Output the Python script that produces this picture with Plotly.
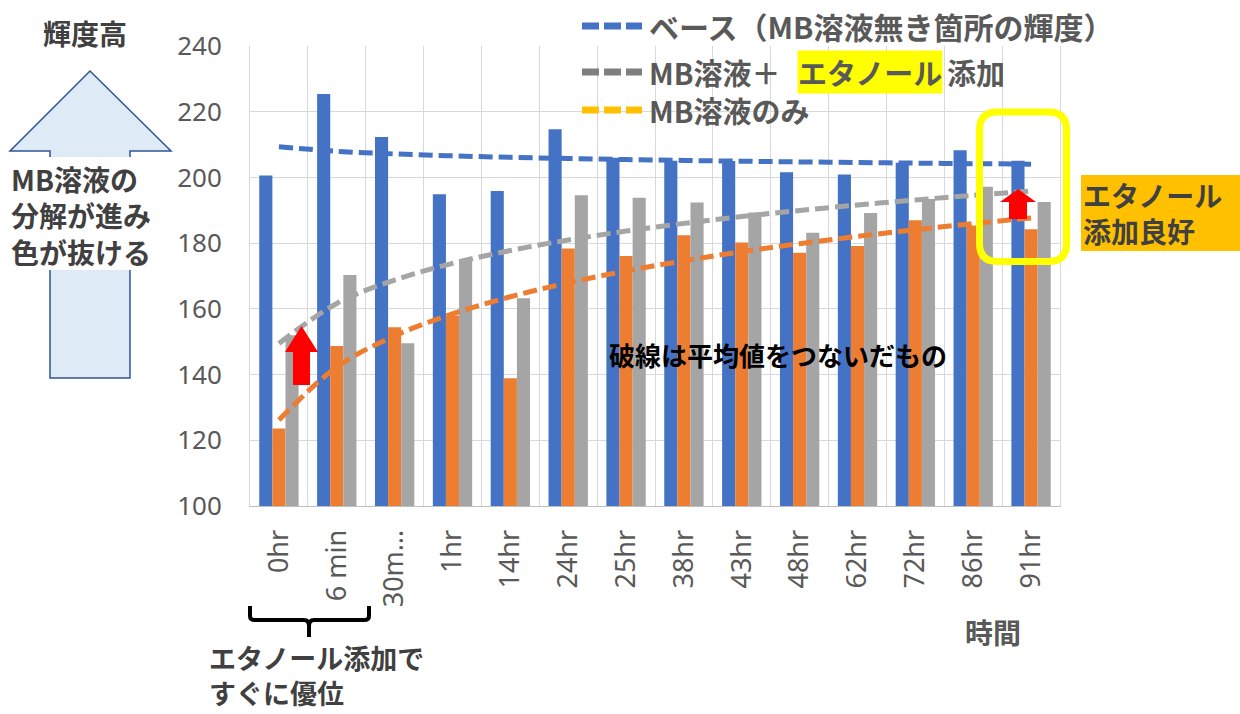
import numpy as np
import plotly.graph_objects as go

# category labels (time after start)
times = ["0hr", "6 min", "30m…", "1hr", "14hr", "24hr", "25hr",
         "38hr", "43hr", "48hr", "62hr", "72hr", "86hr", "91hr"]

# brightness values
base = [200.6, 225.4, 212.3, 194.9, 195.9, 214.7, 206.0,
        205.1, 205.0, 201.6, 200.9, 204.5, 208.3, 205.1]
mb_only = [123.6, 148.7, 154.4, 158.0, 138.9, 178.4, 176.1,
           182.4, 180.2, 177.1, 179.1, 187.0, 185.4, 184.2]
mb_etoh = [152.0, 170.3, 149.5, 174.7, 163.2, 194.6, 193.8,
           192.4, 189.3, 183.2, 189.2, 193.4, 197.2, 192.5]

COLORS = {
    "blue": "#4472C4",
    "orange": "#ED7D31",
    "gray": "#A5A5A5",
    "gold": "#FFC000",
    "grid": "#D9D9D9",
    "text": "#595959",
    "dark": "#404040",
}
JP = "Noto Sans CJK JP"

W, H = 1240, 714
L, R, T, B = 250, 180, 46, 208


def px(x):
    return (x - L) / (W - L - R)


def py(y):
    return (H - B - y) / (H - T - B)


def path(cmds):
    # cmds: list of (letter, [(x, y), ...]) in pixel space; L repeated per point
    out = []
    for c, pts in cmds:
        if c == "L":
            for x, y in pts:
                out.append(f"L {px(x):.5f},{py(y):.5f}")
        elif c == "Z":
            out.append("Z")
        else:
            out.append(c + " " + " ".join(f"{px(x):.5f},{py(y):.5f}" for x, y in pts))
    return " ".join(out)


def log_trend(values):
    # Excel-style logarithmic trendline over category index 1..n
    idx = np.arange(1, len(values) + 1)
    a, b = np.polyfit(np.log(idx), values, 1)
    return a * np.log(idx) + b


fig = go.Figure()
for name, vals, col in [("ベース", base, COLORS["blue"]),
                        ("MB溶液のみ", mb_only, COLORS["orange"]),
                        ("MB溶液＋エタノール添加", mb_etoh, COLORS["gray"])]:
    fig.add_trace(go.Bar(x=times, y=vals, name=name, marker=dict(color=col, line=dict(width=0))))

for vals, col in [(base, COLORS["blue"]), (mb_etoh, COLORS["gray"]), (mb_only, COLORS["orange"])]:
    fig.add_trace(go.Scatter(
        x=times, y=log_trend(vals), mode="lines",
        line=dict(color=col, width=5, dash="14px,6px", shape="spline"),
        hoverinfo="skip",
    ))

shapes = []
annotations = []

# big light-blue arrow on the left
shapes.append(dict(
    type="path", xref="paper", yref="paper",
    path=path([("M", [(90, 71)]), ("L", [(171, 151), (130, 151), (130, 378), (50, 378), (50, 151), (10, 151)]), ("Z", [])]),
    fillcolor="#DEEBF7", line=dict(color="#2F5597", width=1.5), layer="above",
))
shapes.append(dict(type="rect", xref="paper", yref="paper",
                   x0=px(0), x1=px(168), y0=py(157), y1=py(270),
                   fillcolor="white", line=dict(width=0), layer="above"))

# red arrows
for tip, hb, hx0, hx1, bx0, bx1, bot in [(326, 352, 285, 318, 293, 310, 385),
                                         (189, 202, 1000, 1036, 1009, 1027, 219)]:
    cx = (hx0 + hx1) / 2
    shapes.append(dict(
        type="path", xref="paper", yref="paper",
        path=path([("M", [(cx, tip)]), ("L", [(hx1, hb), (bx1, hb), (bx1, bot), (bx0, bot), (bx0, hb), (hx0, hb)]), ("Z", [])]),
        fillcolor="#FF0000", line=dict(width=0), layer="above",
    ))

# yellow rounded frame around the last category
x0, x1, y0, y1, r = 979.5, 1066.5, 112, 261.5, 18
shapes.append(dict(
    type="path", xref="paper", yref="paper",
    path=path([("M", [(x0 + r, y0)]), ("L", [(x1 - r, y0)]), ("Q", [(x1, y0), (x1, y0 + r)]),
               ("L", [(x1, y1 - r)]), ("Q", [(x1, y1), (x1 - r, y1)]),
               ("L", [(x0 + r, y1)]), ("Q", [(x0, y1), (x0, y1 - r)]),
               ("L", [(x0, y0 + r)]), ("Q", [(x0, y0), (x0 + r, y0)]), ("Z", [])]),
    line=dict(color="#FFFF00", width=7), layer="above",
))

# curly bracket under the first two categories
shapes.append(dict(
    type="path", xref="paper", yref="paper",
    path=path([("M", [(250, 606)]), ("L", [(250, 616)]), ("Q", [(250, 620), (255, 620)]),
               ("L", [(304, 620)]), ("Q", [(309, 620), (309, 626)]), ("L", [(309, 637)]),
               ("M", [(309, 626)]), ("Q", [(309, 620), (314, 620)]),
               ("L", [(364, 620)]), ("Q", [(369, 620), (369, 616)]), ("L", [(369, 606)])]),
    line=dict(color="black", width=4), layer="above",
))

# orange box behind "エタノール添加良好"
shapes.append(dict(type="rect", xref="paper", yref="paper",
                   x0=px(1081), x1=px(1240), y0=py(175), y1=py(251),
                   fillcolor=COLORS["gold"], line=dict(width=0), layer="above"))

# manual legend samples
for yy, col in [(26, COLORS["blue"]), (72, "#7F7F7F"), (110, COLORS["gold"])]:
    shapes.append(dict(type="line", xref="paper", yref="paper",
                       x0=px(582), x1=px(642), y0=py(yy), y1=py(yy),
                       line=dict(color=col, width=7, dash="17px,5px"), layer="above"))


def note(x, y, text, size=28, color=COLORS["text"], bold=True, xanchor="left", align="left", bg=None):
    annotations.append(dict(
        xref="paper", yref="paper", x=px(x), y=py(y), text=f"<b>{text}</b>" if bold else text,
        showarrow=False, xanchor=xanchor, yanchor="middle", align=align,
        font=dict(family=JP, size=size, color=color),
        bgcolor=bg, borderpad=0,
    ))


note(648, 26, "ベース（MB溶液無き箇所の輝度）", size=30)
note(648, 72, "MB溶液＋", size=29)
note(797, 72, "エタノール", size=29, bg="#FFFF00")
note(946, 72, "添加", size=29)
note(648, 110, "MB溶液のみ", size=29)

note(85, 33, "輝度高", color=COLORS["dark"], xanchor="center", align="center")
note(10, 215, "MB溶液の<br>分解が進み<br>色が抜ける", color=COLORS["dark"])

note(1082, 213, "エタノール<br>添加良好", color=COLORS["dark"])

note(608, 354, "破線は平均値をつないだもの", size=26, color="black")
note(993, 632, "時間", color=COLORS["text"], xanchor="center", align="center")
note(208, 675, "エタノール添加で<br>すぐに優位", size=27, color=COLORS["dark"])

fig.update_layout(
    width=W, height=H,
    margin=dict(l=L, r=R, t=T, b=B, autoexpand=False),
    paper_bgcolor="white", plot_bgcolor="white",
    barmode="group", bargap=0.32, bargroupgap=0,
    showlegend=False,
    shapes=shapes, annotations=annotations,
    font=dict(family="Noto Sans", color=COLORS["text"]),
)
fig.update_xaxes(
    type="category", tickangle=-90, tickson="boundaries", ticks="",
    showgrid=True, gridcolor=COLORS["grid"], gridwidth=1,
    showline=True, linecolor="#BFBFBF", mirror=False, automargin=False,
    tickfont=dict(family="Noto Sans", size=27, color=COLORS["text"]),
    ticklabelstandoff=12,
)
fig.update_yaxes(
    range=[100, 240], dtick=20, ticks="",
    showgrid=True, gridcolor=COLORS["grid"], gridwidth=1, zeroline=False,
    showline=True, linecolor=COLORS["grid"], mirror=True, automargin=False,
    tickfont=dict(family="Noto Sans", size=26, color=COLORS["text"]),
    ticklabelstandoff=22,
)

# drop the browser's default body margin so the figure sits at the page corner
fig.write_html("out.html", config={"displayModeBar": False},
               post_script="document.body.style.margin='0';")
